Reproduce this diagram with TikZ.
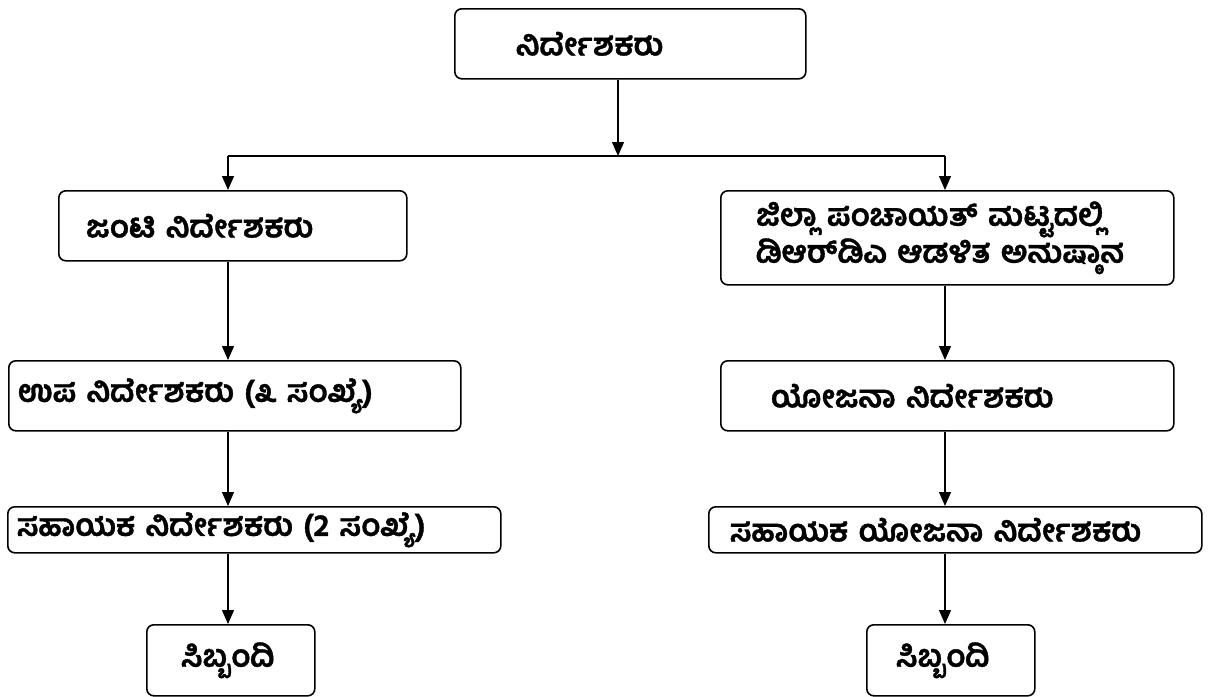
\documentclass[tikz,border=0pt]{standalone}
\usepackage{fontspec}
\newfontfamily\kn[Script=Kannada, WordSpace=1.8, BoldFeatures={FakeBold=1.2}]{Hind Mysuru}
\usetikzlibrary{arrows.meta}
\tikzset{
  box/.style={draw, line width=1.6pt, rounded corners=7pt, anchor=north west, align=left,
    inner ysep=2pt, font=\kn\bfseries\fontsize{31}{33}\selectfont},
  conn/.style={line width=1.2pt},
  arr/.style={conn, -{Triangle[length=14pt,width=12pt]}}
}
\begin{document}
\begin{tikzpicture}[x=1pt,y=-1pt]
\useasboundingbox (0,0) rectangle (1209,696);

% Boxes
\node[box, minimum width=351pt, minimum height=70pt, inner xsep=61pt, text width=229pt] (dir) at (454,8) {ನಿರ್ದೇಶಕರು};
\node[box, minimum width=348pt, minimum height=70pt, inner xsep=27pt, text width=294pt] (jnt) at (58,190) {ಜಂಟಿ ನಿರ್ದೇಶಕರು};
\node[box, minimum width=453pt, minimum height=94pt, inner xsep=35pt, text width=383pt] (zp) at (720,190) {ಜಿಲ್ಲಾ ಪಂಚಾಯತ್ ಮಟ್ಟದಲ್ಲಿ\\ಡಿಆರ್‌ಡಿಎ ಆಡಳಿತ ಅನುಷ್ಠಾನ};
\node[box, minimum width=452pt, minimum height=70pt, inner xsep=9pt, text width=434pt] (upa) at (8,360) {ಉಪ ನಿರ್ದೇಶಕರು (೩ ಸಂಖ್ಯೆ)};
\node[box, minimum width=453pt, minimum height=70pt, inner xsep=50pt, text width=353pt] (yoj) at (720,360) {ಯೋಜನಾ ನಿರ್ದೇಶಕರು};
\node[box, minimum width=493pt, minimum height=46pt, inner xsep=9pt, text width=475pt] (sahL) at (7,506) {ಸಹಾಯಕ ನಿರ್ದೇಶಕರು (2 ಸಂಖ್ಯೆ)};
\node[box, minimum width=493pt, minimum height=46pt, inner xsep=21pt, text width=451pt] (sahR) at (708,506) {ಸಹಾಯಕ ಯೋಜನಾ ನಿರ್ದೇಶಕರು};
\node[box, minimum width=168pt, minimum height=71pt, inner xsep=34pt, text width=100pt] (sibL) at (146,624) {ಸಿಬ್ಬಂದಿ};
\node[box, minimum width=168pt, minimum height=71pt, inner xsep=29pt, text width=110pt] (sibR) at (866,624) {ಸಿಬ್ಬಂದಿ};

% Lines
\coordinate (split) at (618,156);
\coordinate (colL) at (228,0);
\coordinate (colR) at (945,0);
\draw[arr] (dir.south -| split) -- (split);
\draw[conn] (split -| colL) -- (split -| colR);
\draw[arr] (split -| colL) -- (jnt.north -| colL);
\draw[arr] (split -| colR) -- (zp.north -| colR);
\draw[arr] (jnt.south -| colL) -- (upa.north -| colL);
\draw[arr] (upa.south -| colL) -- (sahL.north -| colL);
\draw[arr] (sahL.south -| colL) -- (sibL.north -| colL);
\draw[arr] (zp.south -| colR) -- (yoj.north -| colR);
\draw[arr] (yoj.south -| colR) -- (sahR.north -| colR);
\draw[arr] (sahR.south -| colR) -- (sibR.north -| colR);

\end{tikzpicture}
\end{document}
